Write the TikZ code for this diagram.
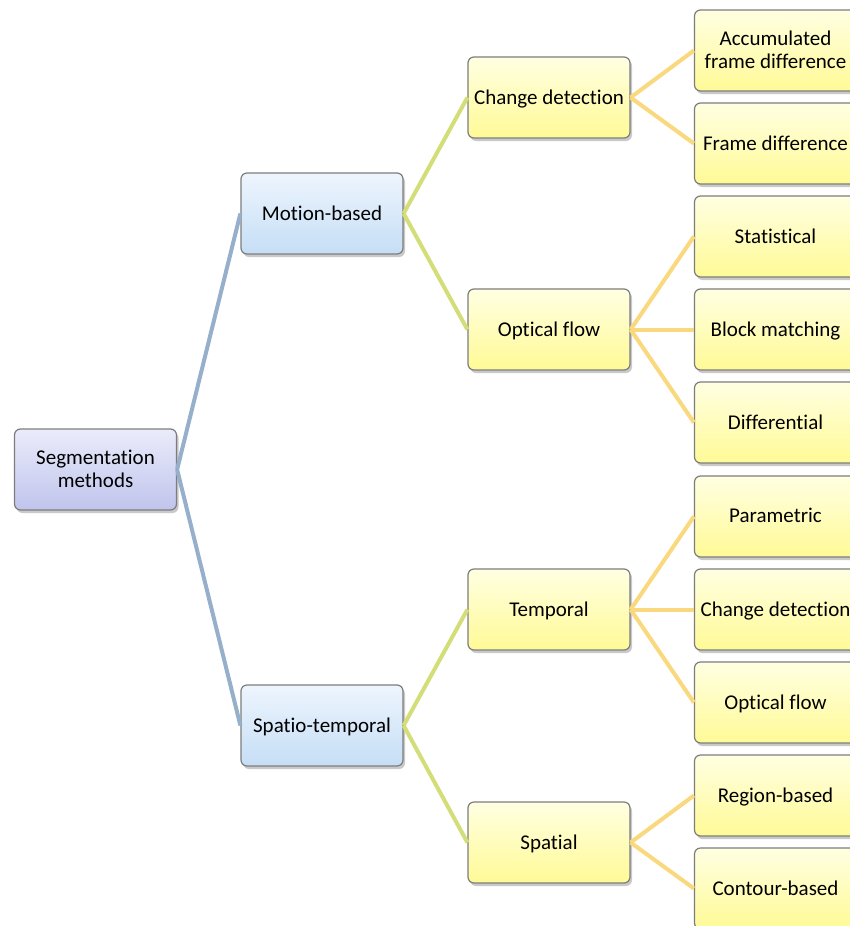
\documentclass[tikz,border=0pt]{standalone}
\usepackage{fontspec}
\setmainfont[Ligatures=NoCommon]{Carlito}
\usetikzlibrary{shadows}
\definecolor{rootT}{RGB}{234,236,250}
\definecolor{rootB}{RGB}{192,196,236}
\definecolor{blueT}{RGB}{238,245,253}
\definecolor{blueB}{RGB}{197,222,246}
\definecolor{yelT}{RGB}{255,255,226}
\definecolor{yelB}{RGB}{255,250,150}
\definecolor{bord}{RGB}{125,125,125}
\definecolor{lineA}{RGB}{150,176,204}
\definecolor{lineB}{RGB}{212,222,120}
\definecolor{lineC}{RGB}{250,216,125}
\tikzset{
  x=1pt, y=-1pt,
  box/.style={draw=bord, line width=1.2pt, rounded corners=6pt, minimum width=162pt, minimum height=81pt,
    inner sep=1pt, text depth=1.5pt, align=center, font=\fontsize{21}{23}\selectfont,
    drop shadow={shadow xshift=2pt, shadow yshift=-3pt, opacity=0.35, fill=black!60}},
  rootbox/.style={box, top color=rootT, bottom color=rootB},
  bluebox/.style={box, top color=blueT, bottom color=blueB},
  yelbox/.style={box, top color=yelT, bottom color=yelB},
  linkA/.style={draw=lineA, line width=4pt},
  linkB/.style={draw=lineB, line width=4pt},
  linkC/.style={draw=lineC, line width=4pt},
}
\begin{document}
\begin{tikzpicture}
\useasboundingbox (0,0) rectangle (850,926);
\clip (0,0) rectangle (850,926);
\fill[white] (0,0) rectangle (850,926);
% root
\node[rootbox] (root) at (95.5,469.5) {Segmentation\\methods};
% level 1
\node[bluebox] (mb) at (322,213.5) {Motion-based};
\node[bluebox] (st) at (322,725.5) {Spatio-temporal};
% level 2
\node[yelbox] (cd) at (549,97.5) {Change detection};
\node[yelbox] (of) at (549,329.5) {Optical flow};
\node[yelbox] (tp) at (549,609.5) {Temporal};
\node[yelbox] (sp) at (549,842.5) {Spatial};
% level 3
\node[yelbox] (afd) at (775.5,50.5) {Accumulated\\frame difference};
\node[yelbox] (fd) at (775.5,143.5) {Frame difference};
\node[yelbox] (stat) at (775.5,236.5) {Statistical};
\node[yelbox] (bm) at (775.5,329.5) {Block matching};
\node[yelbox] (diff) at (775.5,422.5) {Differential};
\node[yelbox] (par) at (775.5,516.5) {Parametric};
\node[yelbox] (tcd) at (775.5,609.5) {Change detection};
\node[yelbox] (tof) at (775.5,702.5) {Optical flow};
\node[yelbox] (rb) at (775.5,795.5) {Region-based};
\node[yelbox] (cb) at (775.5,888.5) {Contour-based};
% connectors
\draw[linkA] (root.east) -- (mb.west);
\draw[linkA] (root.east) -- (st.west);
\draw[linkB] (mb.east) -- (cd.west);
\draw[linkB] (mb.east) -- (of.west);
\draw[linkB] (st.east) -- (tp.west);
\draw[linkB] (st.east) -- (sp.west);
\draw[linkC] (cd.east) -- (afd.west);
\draw[linkC] (cd.east) -- (fd.west);
\draw[linkC] (of.east) -- (stat.west);
\draw[linkC] (of.east) -- (bm.west);
\draw[linkC] (of.east) -- (diff.west);
\draw[linkC] (tp.east) -- (par.west);
\draw[linkC] (tp.east) -- (tcd.west);
\draw[linkC] (tp.east) -- (tof.west);
\draw[linkC] (sp.east) -- (rb.west);
\draw[linkC] (sp.east) -- (cb.west);
\end{tikzpicture}
\end{document}
